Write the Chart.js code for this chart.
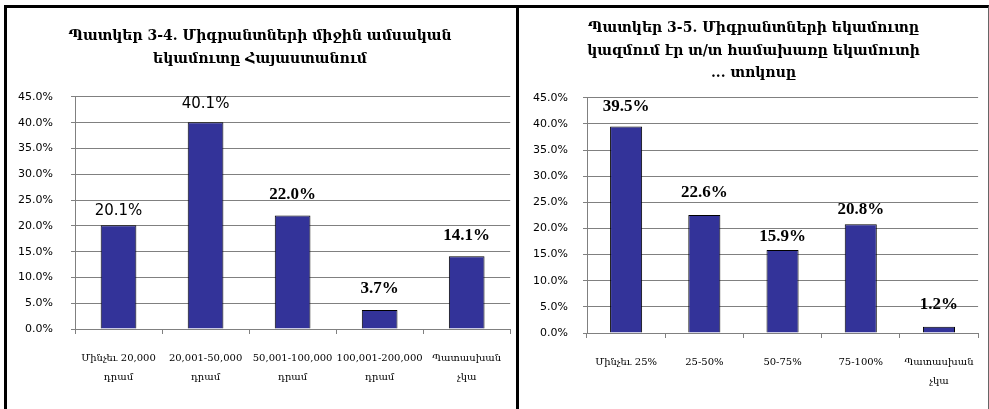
<!DOCTYPE html>
<html><head><meta charset="utf-8">
<script src="https://cdn.jsdelivr.net/npm/chart.js@4"></script>
<style>
html,body{margin:0;padding:0;background:#fff;width:989px;height:409px;overflow:hidden;position:relative}
#boxL{position:absolute;left:4px;top:5px;width:509px;height:404px;border-left:3px solid #000;border-top:3px solid #000;border-right:3px solid #000;}
#boxR{position:absolute;left:519px;top:5px;width:469px;height:404px;border-top:3px solid #000;border-right:1px solid #666;}
.cw{position:absolute;left:0;top:0;width:100%;height:401px}
</style></head><body>
<div id="boxL"><div class="cw"><canvas id="cL"></canvas></div></div>
<div id="boxR"><div class="cw"><canvas id="cR"></canvas></div></div>
<script>
// ---- data ----
const titleLeft = ['Պատկեր 3-4. Միգրանտների միջին ամսական', 'եկամուտը Հայաստանում'];
const categoriesLeft = [['Մինչեւ 20,000','դրամ'], ['20,001-50,000','դրամ'], ['50,001-100,000','դրամ'], ['100,001-200,000','դրամ'], ['Պատասխան','չկա']];
const valuesLeft = [20.1, 40.1, 22.0, 3.7, 14.1];

const titleRight = ['Պատկեր 3-5. Միգրանտների եկամուտը', 'կազմում էր տ/տ համախառը եկամուտի', '... տոկոսը'];
const categoriesRight = ['Մինչեւ 25%', '25-50%', '50-75%', '75-100%', ['Պատասխան','չկա']];
const valuesRight = [39.5, 22.6, 15.9, 20.8, 1.2];

const yTickLabels = ['0.0%','5.0%','10.0%','15.0%','20.0%','25.0%','30.0%','35.0%','40.0%','45.0%'];
const yMax = 45, yStep = 5;

// ---- styling ----
const SANS = 'DejaVu Sans';
const SERIF = 'DejaVu Serif';
const LBL_SERIF = 'bold 17px "Liberation Serif"';
const LBL_SANS = '15px "DejaVu Sans"';

const valueLabels = {
  id: 'valueLabels',
  afterDatasetsDraw(chart, args, opts) {
    const ctx = chart.ctx;
    const meta = chart.getDatasetMeta(0);
    const data = chart.data.datasets[0].data;
    meta.data.forEach((bar, i) => {
      const st = opts.styles[i];
      ctx.save();
      ctx.font = st.font;
      ctx.fillStyle = '#000';
      ctx.textAlign = 'center';
      ctx.textBaseline = 'middle';
      ctx.fillText(data[i].toFixed(1) + '%', bar.x, bar.y - st.offset);
      ctx.restore();
    });
  }
};

function makeChart(id, title, cats, vals, o) {
  return new Chart(document.getElementById(id), {
    type: 'bar',
    data: { labels: cats, datasets: [{ data: vals, backgroundColor: '#333399', borderColor: '#000', borderWidth: 1, barPercentage: 0.41, categoryPercentage: 1 }] },
    plugins: [valueLabels],
    options: {
      responsive: true, maintainAspectRatio: false, animation: false,
      layout: { padding: { left: 0, right: o.padRight, top: 0, bottom: 0 } },
      plugins: {
        legend: { display: false },
        tooltip: { enabled: false },
        title: { display: true, text: title, color: '#000', font: { family: SERIF, size: 14, weight: 'bold', lineHeight: 1.62 }, padding: o.titlePad },
        valueLabels: { styles: o.labelStyles }
      },
      scales: {
        x: {
          grid: { display: true, offset: true, drawOnChartArea: false, drawTicks: true, tickLength: 5, color: '#808080' },
          border: { display: true, color: '#808080' },
          ticks: { color: '#000', font: { family: SERIF, size: 10, lineHeight: 1.9 }, padding: o.xPad, maxRotation: 0, autoSkip: false },
          afterFit(s) { s.height = o.xHeight; }
        },
        y: {
          min: 0, max: yMax,
          grid: { color: '#808080', tickLength: 4, drawTicks: true },
          border: { display: true, color: '#808080' },
          ticks: { stepSize: yStep, color: '#000', font: { family: SANS, size: 11 }, padding: o.yPad,
            callback: (v) => yTickLabels[Math.round(v / yStep)] },
          afterFit(s) { s.width = 68; }
        }
      }
    }
  });
}

makeChart('cL', titleLeft, categoriesLeft, valuesLeft, {
  padRight: 3, titlePad: { top: 17.5, bottom: 26.1 }, xPad: 14.5, xHeight: 80, yPad: 18,
  labelStyles: [
    { font: LBL_SANS, offset: 14 }, { font: LBL_SANS, offset: 18 },
    { font: LBL_SERIF, offset: 21 }, { font: LBL_SERIF, offset: 21 }, { font: LBL_SERIF, offset: 21 }
  ]
});
makeChart('cR', titleRight, categoriesRight, valuesRight, {
  padRight: 0, titlePad: { top: 9, bottom: 12.8 }, xPad: 14.5, xHeight: 76, yPad: 15,
  labelStyles: [
    { font: LBL_SERIF, offset: 20 }, { font: LBL_SERIF, offset: 22 },
    { font: LBL_SERIF, offset: 13 }, { font: LBL_SERIF, offset: 15 }, { font: LBL_SERIF, offset: 22 }
  ]
});
</script>
</body></html>
